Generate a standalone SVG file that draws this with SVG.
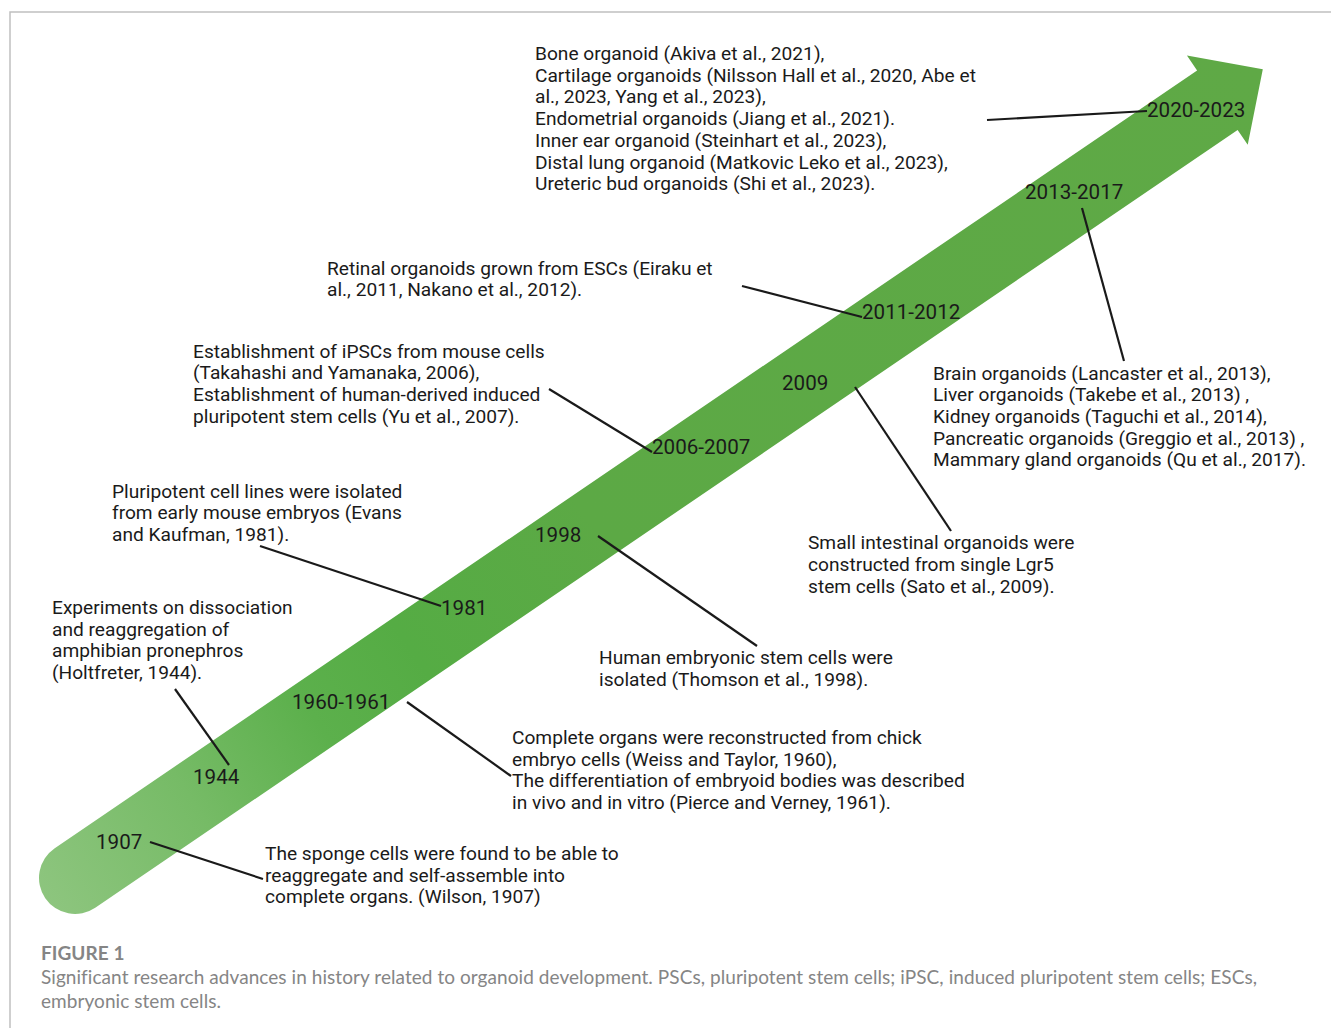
<svg xmlns="http://www.w3.org/2000/svg" width="1331" height="1028" viewBox="0 0 1331 1028">
<style>
.t{font-family:Roboto,"Liberation Sans",sans-serif;font-size:19.15px;fill:#1a1a1a}
.y{font-family:Roboto,"Liberation Sans",sans-serif;font-size:20.6px;fill:#1a1a1a}
.c{stroke:#1a1a1a;stroke-width:2.2;fill:none}
.cap{font-family:Lato,"Open Sans",sans-serif;font-size:19px;letter-spacing:0.06px;fill:#858585}
</style>
<defs>
<linearGradient id="g" gradientUnits="userSpaceOnUse" x1="-36" y1="0" x2="1437" y2="0">
<stop offset="0" stop-color="#8dc57e"/>
<stop offset="0.12" stop-color="#76bb66"/>
<stop offset="0.22" stop-color="#5cb04c"/>
<stop offset="0.3" stop-color="#55ac44"/>
<stop offset="0.45" stop-color="#5ca945"/>
<stop offset="1" stop-color="#5fa946"/>
</linearGradient>
</defs>
<rect width="1331" height="1028" fill="#fff"/>
<path d="M10,1028 V12 H1331" fill="none" stroke="#c0c0c0" stroke-width="1.5"/>
<g id="arrow" transform="translate(75,878) rotate(-34.25)">
<path d="M0,-36 L1382,-36 L1382,-54 L1437,0 L1382,54 L1382,36 L0,36 A36,36 0 0 1 0,-36 Z" fill="url(#g)"/>
</g>
<g id="connectors">
<line class="c" x1="150" y1="842" x2="263" y2="879"/>
<line class="c" x1="175" y1="689" x2="229" y2="765"/>
<line class="c" x1="407" y1="702" x2="511" y2="776"/>
<line class="c" x1="260" y1="546" x2="441" y2="606"/>
<line class="c" x1="598" y1="536" x2="757" y2="646"/>
<line class="c" x1="549" y1="389" x2="652" y2="452"/>
<line class="c" x1="855" y1="387" x2="951" y2="531"/>
<line class="c" x1="742" y1="286" x2="862" y2="317"/>
<line class="c" x1="1082" y1="208" x2="1124" y2="361"/>
<line class="c" x1="987" y1="120" x2="1147" y2="111"/>
</g>
<g id="n1907">
<text class="y" x="96" y="848.5">1907</text>
<text class="t" x="265" y="860">The sponge cells were found to be able to</text>
<text class="t" x="265" y="881.7">reaggregate and self-assemble into</text>
<text class="t" x="265" y="903.4">complete organs. (Wilson, 1907)</text>
</g>
<g id="n1944">
<text class="y" x="193" y="783.5">1944</text>
<text class="t" x="52" y="614">Experiments on dissociation</text>
<text class="t" x="52" y="635.7">and reaggregation of</text>
<text class="t" x="52" y="657.4">amphibian pronephros</text>
<text class="t" x="52" y="679.1">(Holtfreter, 1944).</text>
</g>
<g id="n1960">
<text class="y" x="292" y="708.5">1960-1961</text>
<text class="t" x="512" y="744">Complete organs were reconstructed from chick</text>
<text class="t" x="512" y="765.7">embryo cells (Weiss and Taylor, 1960),</text>
<text class="t" x="512" y="787.4">The differentiation of embryoid bodies was described</text>
<text class="t" x="512" y="809.1">in vivo and in vitro (Pierce and Verney, 1961).</text>
</g>
<g id="n1981">
<text class="y" x="441" y="615">1981</text>
<text class="t" x="112" y="497.7">Pluripotent cell lines were isolated</text>
<text class="t" x="112" y="519.4">from early mouse embryos (Evans</text>
<text class="t" x="112" y="541.1">and Kaufman, 1981).</text>
</g>
<g id="n1998">
<text class="y" x="535" y="542">1998</text>
<text class="t" x="599" y="664">Human embryonic stem cells were</text>
<text class="t" x="599" y="685.7">isolated (Thomson et al., 1998).</text>
</g>
<g id="n2006">
<text class="y" x="652" y="453.5">2006-2007</text>
<text class="t" x="193" y="357.5">Establishment of iPSCs from mouse cells</text>
<text class="t" x="193" y="379.2">(Takahashi and Yamanaka, 2006),</text>
<text class="t" x="193" y="400.9">Establishment of human-derived induced</text>
<text class="t" x="193" y="422.6">pluripotent stem cells (Yu et al., 2007).</text>
</g>
<g id="n2009">
<text class="y" x="782" y="390">2009</text>
<text class="t" x="808" y="549.2">Small intestinal organoids were</text>
<text class="t" x="808" y="570.9">constructed from single Lgr5</text>
<text class="t" x="808" y="592.6">stem cells (Sato et al., 2009).</text>
</g>
<g id="n2011">
<text class="y" x="862" y="318.5">2011-2012</text>
<text class="t" x="327" y="274.5">Retinal organoids grown from ESCs (Eiraku et</text>
<text class="t" x="327" y="296.2">al., 2011, Nakano et al., 2012).</text>
</g>
<g id="n2013">
<text class="y" x="1025" y="199">2013-2017</text>
<text class="t" x="933" y="379.5">Brain organoids (Lancaster et al., 2013),</text>
<text class="t" x="933" y="401.2">Liver organoids (Takebe et al., 2013) ,</text>
<text class="t" x="933" y="422.9">Kidney organoids (Taguchi et al., 2014),</text>
<text class="t" x="933" y="444.6">Pancreatic organoids (Greggio et al., 2013) ,</text>
<text class="t" x="933" y="466.3">Mammary gland organoids (Qu et al., 2017).</text>
</g>
<g id="n2020">
<text class="y" x="1147" y="117">2020-2023</text>
<text class="t" x="535" y="60">Bone organoid (Akiva et al., 2021),</text>
<text class="t" x="535" y="81.7">Cartilage organoids (Nilsson Hall et al., 2020, Abe et</text>
<text class="t" x="535" y="103.4">al., 2023, Yang et al., 2023),</text>
<text class="t" x="535" y="125.1">Endometrial organoids (Jiang et al., 2021).</text>
<text class="t" x="535" y="146.8">Inner ear organoid (Steinhart et al., 2023),</text>
<text class="t" x="535" y="168.5">Distal lung organoid (Matkovic Leko et al., 2023),</text>
<text class="t" x="535" y="190.2">Ureteric bud organoids (Shi et al., 2023).</text>
</g>
<g id="caption">
<text class="cap" x="41" y="960" font-weight="bold" fill="#707070">FIGURE 1</text>
<text class="cap" x="41" y="984">Significant research advances in history related to organoid development. PSCs, pluripotent stem cells; iPSC, induced pluripotent stem cells; ESCs,</text>
<text class="cap" x="41" y="1008">embryonic stem cells.</text>
</g>
</svg>
